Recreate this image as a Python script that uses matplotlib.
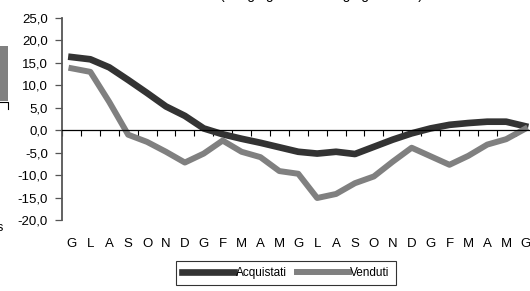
import numpy as np
import matplotlib.pyplot as plt
from matplotlib.patches import Rectangle
from matplotlib.lines import Line2D

# dati (saldi mensili)
mesi = ['G', 'L', 'A', 'S', 'O', 'N', 'D', 'G', 'F', 'M', 'A', 'M',
        'G', 'L', 'A', 'S', 'O', 'N', 'D', 'G', 'F', 'M', 'A', 'M', 'G']
acquistati = [16.3, 15.8, 14.0, 11.2, 8.3, 5.3, 3.2, 0.4, -0.9, -1.9, -2.8, -3.8,
              -4.8, -5.2, -4.8, -5.3, -3.7, -2.1, -0.7, 0.4, 1.2, 1.6, 1.9, 1.9, 0.9]
venduti = [13.8, 13.0, 6.3, -1.0, -2.6, -4.8, -7.2, -5.2, -2.3, -4.8, -6.0, -9.1,
           -9.7, -15.1, -14.2, -11.8, -10.3, -7.0, -3.9, -5.8, -7.7, -5.7, -3.2, -2.0, 0.3]
y_ticks = np.arange(-20, 30, 5)
titolo = '(dal giugno 2009 al giugno 2011)'

plt.rcParams['font.family'] = ['Liberation Sans', 'DejaVu Sans']

W, H = 530, 291
fig = plt.figure(figsize=(W / 100, H / 100), dpi=100)
ax = fig.add_axes([62 / W, 1 - 220 / H, 472.5 / W, 202 / H])

x = np.arange(len(mesi))
ax.plot(x, acquistati, color='#333333', lw=4.8, label='Acquistati')
ax.plot(x, venduti, color='#808080', lw=4.3, label='Venduti')

ax.set_xlim(-0.5, len(mesi) - 0.5)
ax.set_ylim(-20, 25)

# assi stile Excel
for s in ['top', 'right']:
    ax.spines[s].set_visible(False)
ax.spines['bottom'].set_position(('data', 0))
ax.spines['bottom'].set_linewidth(0.9)
ax.spines['left'].set_color('#555555')
ax.spines['left'].set_linewidth(1.3)

ax.set_xticks(np.arange(-0.5, len(mesi), 1))
ax.set_xticklabels([])
ax.tick_params(axis='x', direction='out', length=4, width=0.8)
ax.set_yticks(y_ticks, [f'{v:.1f}'.replace('.', ',') for v in y_ticks])
ax.tick_params(axis='y', direction='out', length=5, width=0.9,
               color='#555555', pad=5, labelsize=9.5)

for i, m in enumerate(mesi):
    ax.text(i, -25.4, m, ha='center', va='center', fontsize=9.5, clip_on=False)

leg = fig.legend(loc='center', bbox_to_anchor=(286 / W, 1 - 273 / H), ncol=2,
                 fancybox=False, edgecolor='black', fontsize=8.5,
                 handlelength=4.4, handletextpad=0.1, columnspacing=0.9,
                 borderpad=0.5)
leg.get_frame().set_linewidth(0.8)

# titolo tagliato in alto: restano solo i discendenti
fig.text(321 / W, 1 + 1 / H, titolo, ha='center', va='baseline', fontsize=10)

# resti di un elemento a sinistra
fig.patches.append(Rectangle((0, 1 - 101 / H), 8 / W, 55 / H,
                             transform=fig.transFigure, facecolor='#808080',
                             edgecolor='none'))
fig.add_artist(Line2D([0, 7.5 / W, 7.5 / W], [1 - 102 / H, 1 - 102 / H, 1 - 109 / H],
                      transform=fig.transFigure, color='black', lw=0.8))
fig.text(3 / W, 1 - 228 / H, 's', ha='right', va='center', fontsize=9)

fig.savefig('out.png', dpi=100)
